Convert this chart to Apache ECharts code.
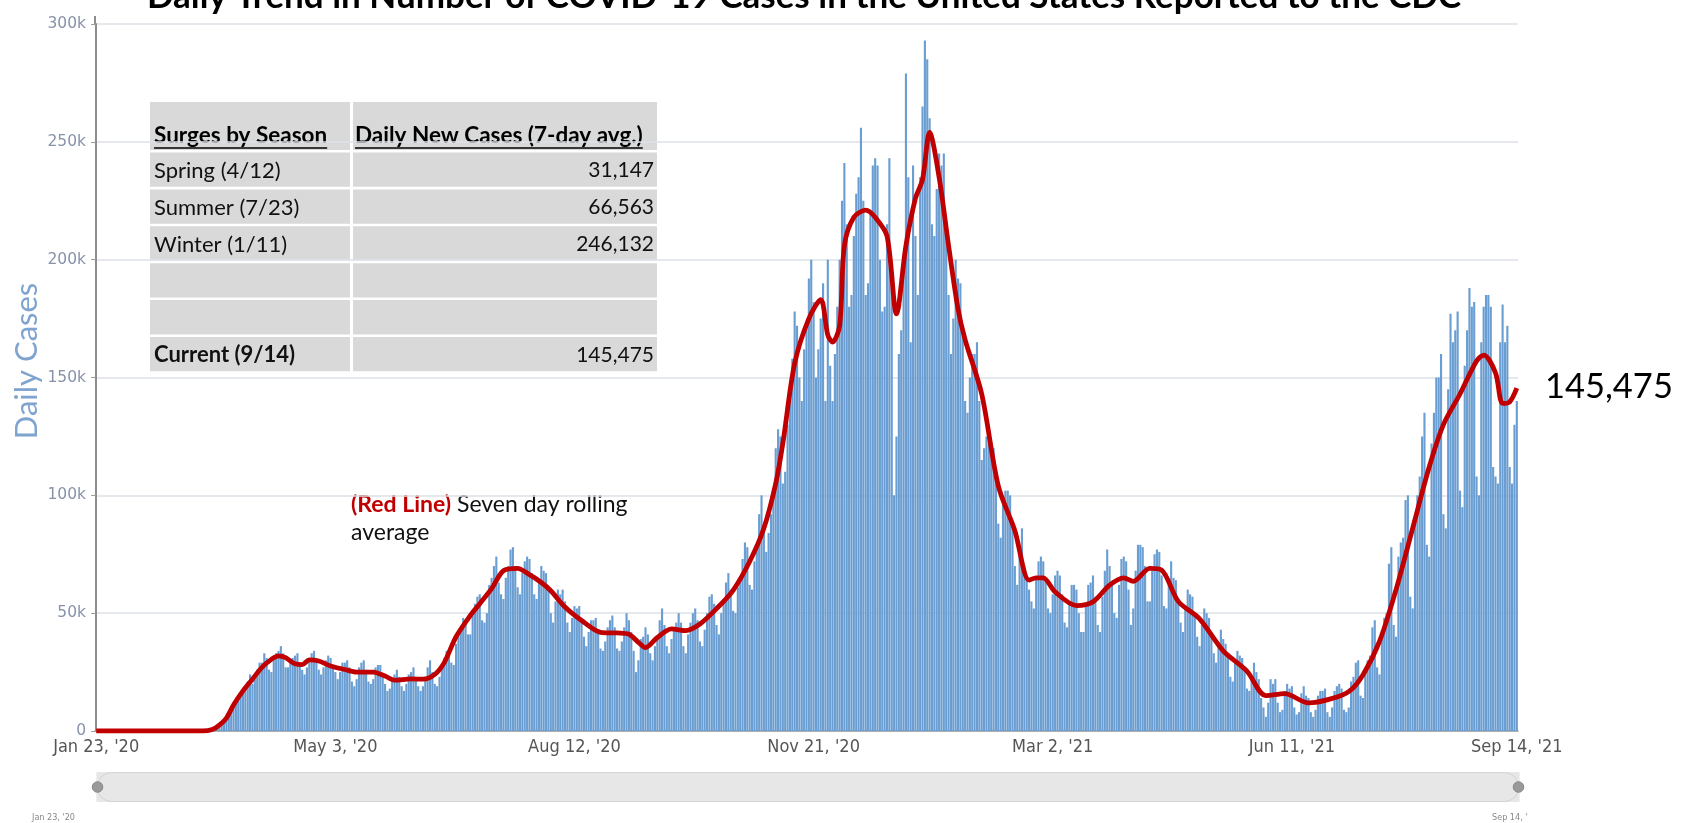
<!DOCTYPE html>
<html>
<head>
<meta charset="utf-8">
<title>Daily Trend in Number of COVID-19 Cases</title>
<script src="https://cdn.jsdelivr.net/npm/echarts@6.0.0/dist/echarts.min.js"></script>
<style>
  html, body { margin: 0; padding: 0; background: #fff; }
  #chart { width: 1687px; height: 823px; }
</style>
</head>
<body>
<div id="chart"></div>
<script>
// daily new cases (thousands), one row per week, starting Thu Jan 23 2020
const dailyCases = [
  0, 0, 0, 0, 0, 0, 0,
  0, 0, 0, 0, 0, 0, 0,
  0, 0, 0, 0, 0, 0, 0,
  0, 0, 0, 0, 0, 0, 0,
  0, 0, 0, 0, 0, 0, 0,
  0, 0, 0, 0, 0, 0, 0,
  0.1, 0.1, 0.1, 0.2, 0.2, 0.3, 0.5,
  0.7, 1.0, 1.4, 2.0, 3.0, 4.0, 5.5,
  7, 9, 10, 12, 13, 16, 18,
  19, 21, 24, 20, 22, 26, 29,
  29, 33, 31, 26, 25, 30, 33,
  34, 36, 33, 27, 27, 29, 31,
  32, 33, 29, 26, 24, 27, 31,
  33, 34, 31, 26, 24, 27, 30,
  32, 31, 28, 25, 22, 25, 29,
  29, 30, 27, 21, 19, 22, 27,
  29, 30, 26, 21, 20, 22, 27,
  28, 28, 24, 20, 17, 18, 22,
  24, 26, 23, 19, 17, 20, 24,
  25, 27, 23, 19, 17, 19, 23,
  27, 30, 25, 20, 19, 23, 27,
  31, 34, 34, 29, 28, 37, 40,
  43, 48, 46, 41, 41, 49, 54,
  57, 58, 47, 46, 50, 62, 65,
  70, 74, 63, 58, 56, 65, 70,
  77, 78, 70, 61, 58, 67, 72,
  74, 73, 67, 58, 56, 64, 70,
  68, 67, 60, 50, 46, 55, 60,
  58, 60, 55, 46, 42, 48, 53,
  52, 53, 48, 40, 36, 42, 47,
  47, 48, 43, 35, 34, 38, 44,
  47, 49, 44, 35, 34, 38, 44,
  50, 47, 42, 34, 25, 30, 39,
  40, 44, 41, 33, 30, 36, 40,
  47, 52, 45, 36, 33, 39, 43,
  46, 50, 46, 36, 33, 41, 46,
  50, 52, 47, 38, 36, 43, 50,
  57, 58, 54, 45, 41, 50, 56,
  63, 67, 60, 51, 50, 61, 64,
  73, 80, 78, 62, 60, 72, 78,
  92, 100, 88, 76, 84, 92, 103,
  120, 128, 125, 105, 110, 130, 140,
  158, 178, 172, 150, 140, 162, 172,
  192, 200, 182, 150, 162, 175, 190,
  140, 200, 155, 140, 160, 180, 200,
  225, 241, 215, 180, 185, 210, 228,
  235, 256, 225, 185, 190, 220, 240,
  243, 240, 200, 178, 180, 215, 243,
  195, 100, 125, 160, 170, 200, 279,
  235, 165, 240, 210, 185, 235, 265,
  293, 285, 260, 215, 210, 230, 245,
  240, 245, 210, 185, 160, 175, 200,
  192, 190, 170, 140, 135, 150, 160,
  160, 165, 140, 115, 120, 125, 130,
  123, 120, 105, 88, 82, 96, 102,
  102, 100, 88, 70, 62, 74, 86,
  70, 66, 60, 55, 52, 65, 72,
  74, 72, 64, 52, 50, 58, 66,
  68, 66, 58, 46, 44, 55, 62,
  62, 60, 50, 42, 42, 53, 62,
  63, 66, 57, 45, 42, 57, 68,
  77, 70, 62, 50, 48, 62, 73,
  74, 72, 60, 45, 52, 68, 79,
  79, 78, 70, 55, 55, 68, 75,
  77, 76, 66, 53, 52, 64, 72,
  65, 64, 56, 46, 42, 52, 60,
  58, 57, 50, 40, 36, 45, 52,
  50, 48, 41, 33, 29, 36, 43,
  39, 37, 33, 23, 21, 29, 34,
  32, 31, 26, 18, 17, 23, 29,
  25, 22, 14, 10, 6, 12, 22,
  20, 22, 12, 8, 9, 17, 20,
  18, 19, 10, 7, 8, 16, 19,
  15, 14, 8, 6, 9, 15, 17,
  17, 18, 8, 6, 10, 17, 19,
  20, 18, 9, 8, 10, 21, 23,
  29, 30, 15, 14, 26, 30, 32,
  44, 47, 27, 24, 42, 48, 50,
  71, 78, 45, 40, 74, 80, 82,
  98, 100, 57, 52, 90, 100, 108,
  125, 135, 79, 74, 122, 135, 150,
  150, 160, 92, 86, 145, 177, 165,
  170, 178, 102, 95, 155, 170, 188,
  180, 182, 108, 100, 165, 180, 185,
  185, 180, 112, 108, 105, 165, 181,
  165, 172, 112, 105, 130, 140
];

// seven day rolling average (red line), read at these day indexes
const avgDays = [
  0, 45, 49, 52, 55, 58, 62, 66, 70, 74, 77, 80, 84, 87, 90, 94, 99, 105, 110, 117,
  122, 126, 133, 138, 143, 147, 152, 158, 162, 167, 172, 178, 182, 188, 192, 198,
  205, 213, 220, 225, 229, 232, 237, 243, 249, 255, 262, 269, 276, 282, 287, 290,
  295, 301, 306, 309, 311, 314, 316, 320, 325, 329, 334, 338, 342, 346, 349, 352,
  356, 360, 364, 367, 374, 381, 388, 394, 397, 400, 405, 414, 421, 428, 434, 438,
  445, 450, 457, 466, 476, 486, 494, 502, 512, 521, 529, 535, 542, 549, 556, 563,
  569, 576, 583, 586, 591, 594, 597, 600
];
const avgValues = [
  0, 0, 0.6, 2.5, 5.5, 11, 17, 22, 27, 30.4, 31.9, 31.1, 28.5, 28.2, 30.2, 29.7, 27.6, 26.1, 25, 25,
  23.3, 21.6, 22.1, 22, 24, 29, 40, 49, 54, 60.4, 68, 69, 67, 63, 59.5, 52.6,
  46.9, 41.9, 41.6, 41.1, 37.6, 35.4, 39.7, 43.3, 42.6, 45.4, 51.9, 59.7, 71.9, 86, 105, 122,
  156, 175, 183, 168, 165, 172, 206, 218, 221, 218, 210, 177, 206, 226, 234, 254,
  235, 206, 179, 166, 143, 104, 85, 64, 65, 65, 59, 53.2, 54.8, 61.9, 65, 63.5,
  69, 68.3, 55, 47.6, 34, 25.4, 15, 15.9, 11.9, 13.5, 16.7, 23.8, 38, 60, 86, 112,
  130, 143, 157, 159.5, 152, 139, 139.7, 145.5
];

const yTicks = [0, 50, 100, 150, 200, 250, 300];

const tableHeader = ['Surges by Season', 'Daily New Cases (7-day avg.)'];
const surgeLabels = ['Spring (4/12)', 'Summer (7/23)', 'Winter (1/11)', '', '', 'Current (9/14)'];
const surgeValues = ['31,147', '66,563', '246,132', '', '', '145,475'];

const MONTHS = ['Jan', 'Feb', 'Mar', 'Apr', 'May', 'Jun', 'Jul', 'Aug', 'Sep', 'Oct', 'Nov', 'Dec'];
const dates = dailyCases.map((_, i) => {
  const t = new Date(2020, 0, 23 + i);
  return MONTHS[t.getMonth()] + ' ' + t.getDate() + ", '" + String(t.getFullYear()).slice(2);
});

const FONT = 'Lato, "Open Sans", sans-serif';
const AXIS_FONT = '"Liberation Sans Narrow", "DejaVu Sans Condensed", "Liberation Sans", sans-serif';

const showTick = (index) => index % 101 === 0 || index === dates.length - 1;

// text width helper for the header underlines
const measureCtx = document.createElement('canvas').getContext('2d');
function textWidth(text, font) {
  measureCtx.font = font;
  return measureCtx.measureText(text).width;
}

function buildTable() {
  const x0 = 150, xMid = 351, x1 = 657;
  const headTop = 102, headH = 48;
  const rowTop = 152.5, rowPitch = 36.9, rowH = 34.3;
  const els = [];
  const cell = (x, y, w, h) => ({ type: 'rect', shape: { x, y, width: w, height: h }, style: { fill: '#d9d9d9' } });
  els.push(cell(x0, headTop, xMid - x0 - 1, headH));
  els.push(cell(xMid + 2, headTop, x1 - xMid - 2, headH));
  const headFont = 'bold 22.5px ' + FONT;
  const headY = headTop + 34;
  [[tableHeader[0], x0 + 4], [tableHeader[1], xMid + 4]].forEach(([t, x]) => {
    els.push({ type: 'text', x, y: headY, style: { text: t, font: headFont, fill: '#000', verticalAlign: 'middle' } });
    els.push({ type: 'line', shape: { x1: x, y1: headY + 12, x2: x + textWidth(t, headFont), y2: headY + 12 }, style: { stroke: '#000', lineWidth: 1.4 } });
  });
  surgeLabels.forEach((label, i) => {
    const top = rowTop + i * rowPitch;
    const bold = i === surgeLabels.length - 1;
    els.push(cell(x0, top, xMid - x0 - 1, rowH));
    els.push(cell(xMid + 2, top, x1 - xMid - 2, rowH));
    els.push({ type: 'text', x: x0 + 4, y: top + rowH / 2 + 1, style: { text: label, font: (bold ? 'bold ' : '') + '22px ' + FONT, fill: '#111', verticalAlign: 'middle' } });
    els.push({ type: 'text', x: x1 - 3, y: top + rowH / 2 + 1, style: { text: surgeValues[i], font: '21px ' + FONT, fill: '#111', align: 'right', verticalAlign: 'middle' } });
  });
  return els;
}

const myChart = echarts.init(document.getElementById('chart'));
const options = {
  animation: false,
  backgroundColor: '#fff',
  grid: { left: 95, right: 169, top: 24, bottom: 92, outerBoundsMode: 'none' },
  xAxis: [
    {
      type: 'category',
      data: dates,
      axisLine: { lineStyle: { color: '#9a9a9a', width: 1.5 } },
      axisTick: { interval: showTick, alignWithLabel: true, length: 5, lineStyle: { color: '#777' } },
      axisLabel: { interval: showTick, color: '#555', fontFamily: AXIS_FONT, fontSize: 18, margin: 7 },
    },
    { type: 'value', min: -0.5, max: 600.5, show: false },
  ],
  yAxis: {
    type: 'value',
    min: yTicks[0],
    max: yTicks[yTicks.length - 1],
    interval: 50,
    axisLine: { show: true, lineStyle: { color: '#8c8c8c', width: 2 } },
    axisTick: { show: true, length: 5, lineStyle: { color: '#999' } },
    axisLabel: {
      color: '#8792a8',
      fontFamily: '"DejaVu Sans", sans-serif',
      fontSize: 15.5,
      margin: 9,
      formatter: (v) => (v === 0 ? '0' : v + 'k'),
    },
    splitLine: { lineStyle: { color: '#dde0e6', width: 1.5 } },
  },
  dataZoom: [
    {
      type: 'slider',
      xAxisIndex: 0,
      start: 0,
      end: 100,
      left: 95,
      right: 169,
      bottom: 21,
      height: 30,
      showDetail: false,
      showDataShadow: false,
      brushSelect: false,
      moveHandleSize: 0,
      backgroundColor: '#ececec',
      fillerColor: 'rgba(225,225,225,0.5)',
      borderColor: '#d4d4d4',
      borderRadius: 15,
      handleIcon: 'circle',
      handleSize: '35%',
      handleStyle: { color: '#9a9a9a', borderColor: '#888' },
    },
  ],
  series: [
    {
      name: 'Daily Cases',
      type: 'bar',
      xAxisIndex: 0,
      data: dailyCases,
      barCategoryGap: '10%',
      itemStyle: { color: '#6a9ed2' },
    },
    {
      name: '7-day average',
      type: 'line',
      xAxisIndex: 1,
      data: avgDays.map((d, i) => [d, avgValues[i]]),
      smooth: 0.3,
      symbol: 'none',
      lineStyle: { color: '#c00000', width: 4.8 },
      z: 5,
    },
  ],
  graphic: [
    {
      type: 'text', x: 804, y: -3,
      style: { text: 'Daily Trend in Number of COVID-19 Cases in the United States Reported to the CDC', font: 'bold 35px ' + FONT, fill: '#000', align: 'center', verticalAlign: 'middle' },
    },
    {
      type: 'line', shape: { x1: 95, y1: 16, x2: 95, y2: 25 }, style: { stroke: '#8c8c8c', lineWidth: 2 },
    },
    {
      type: 'text', x: 27, y: 361, rotation: Math.PI / 2,
      style: { text: 'Daily Cases', font: '31px ' + FONT, fill: '#80a4d0', align: 'center', verticalAlign: 'middle' },
    },
    ...buildTable(),
    {
      type: 'text', x: 351, y: 491,
      style: {
        text: '{r|(Red Line)} Seven day rolling\naverage',
        font: '23px ' + FONT,
        fill: '#111',
        lineHeight: 28,
        verticalAlign: 'top',
        rich: { r: { fontFamily: FONT, fontSize: 23, fontWeight: 'bold', fill: '#c00000', lineHeight: 28 } },
      },
    },
    {
      type: 'text', x: 1545, y: 387,
      style: { text: surgeValues[surgeValues.length - 1], font: '34.5px ' + FONT, fill: '#000', verticalAlign: 'middle' },
    },
    {
      type: 'text', x: 32, y: 818,
      style: { text: dates[0], font: '9px ' + AXIS_FONT, fill: '#888', verticalAlign: 'middle' },
    },
    {
      type: 'text', x: 1492, y: 818,
      style: { text: dates[dates.length - 1].slice(0, 9), font: '9px ' + AXIS_FONT, fill: '#888', verticalAlign: 'middle' },
    },
  ],
};
myChart.setOption(options);
</script>
</body>
</html>
